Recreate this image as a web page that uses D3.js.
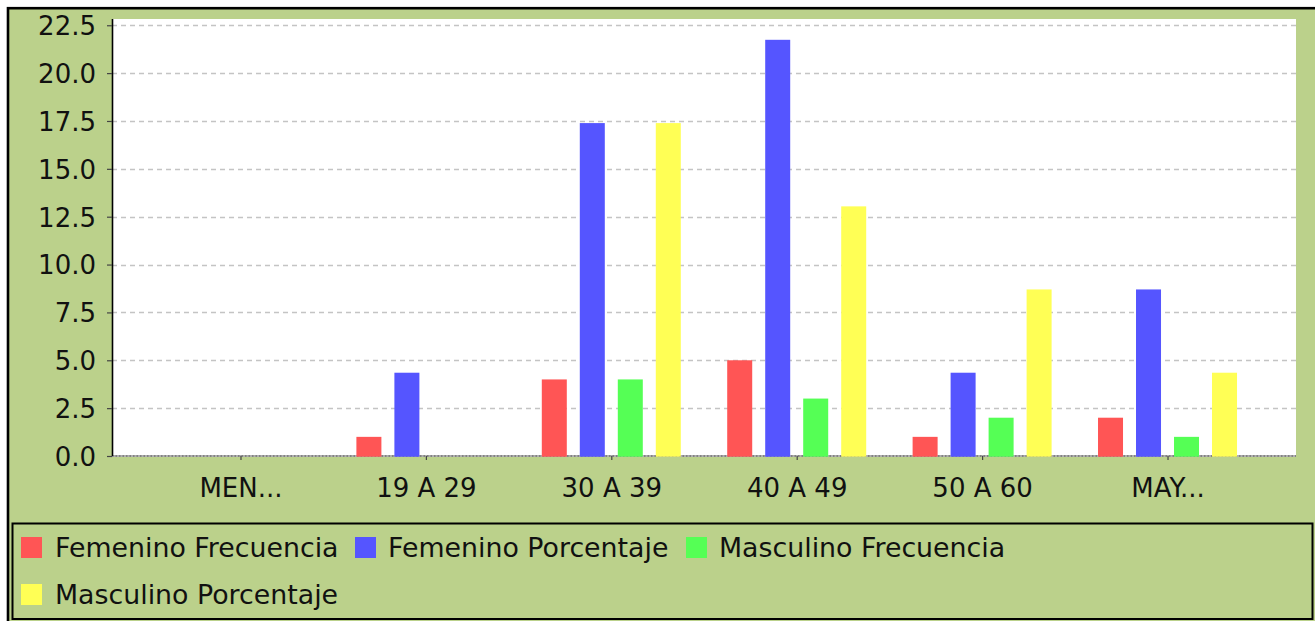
<!DOCTYPE html>
<html>
<head>
<meta charset="utf-8">
<script src="https://cdn.jsdelivr.net/npm/d3@7"></script>
<style>
  html, body { margin: 0; padding: 0; background: #ffffff; }
  svg { display: block; font-family: "DejaVu Sans", sans-serif; }
</style>
</head>
<body>
<svg id="chart" width="1315" height="621"></svg>
<script>
const categories = ["MEN...", "19 A 29", "30 A 39", "40 A 49", "50 A 60", "MAY..."];
const seriesNames = ["Femenino Frecuencia", "Femenino Porcentaje", "Masculino Frecuencia", "Masculino Porcentaje"];
const femeninoFrecuencia = [0, 1, 4, 5, 1, 2];
const femeninoPorcentaje = [0, 4.35, 17.39, 21.74, 4.35, 8.70];
const masculinoFrecuencia = [0, 0, 4, 3, 2, 1];
const masculinoPorcentaje = [0, 0, 17.39, 13.04, 8.70, 4.35];
const yTickValues = [0, 2.5, 5, 7.5, 10, 12.5, 15, 17.5, 20, 22.5];
const seriesColors = ["#ff5555", "#5555ff", "#55ff55", "#ffff55"];

const seriesValues = [femeninoFrecuencia, femeninoPorcentaje, masculinoFrecuencia, masculinoPorcentaje];
const rows = [];
categories.forEach((c, i) => {
  seriesNames.forEach((s, j) => rows.push({ cat: c, series: s, value: seriesValues[j][i], color: seriesColors[j] }));
});

const svg = d3.select("#chart");
const W = 1315, H = 621;
const bg = "#bbd18b";
const plot = { left: 112, top: 19, right: 1296, bottom: 456 };

// outer background + frame
svg.append("rect").attr("x", 0).attr("y", 0).attr("width", W).attr("height", H).attr("fill", "#ffffff");
svg.append("rect").attr("x", 8).attr("y", 8.2).attr("width", W + 10).attr("height", H + 10)
  .attr("fill", bg).attr("stroke", "#000").attr("stroke-width", 2.6);

// plot area
svg.append("rect").attr("x", plot.left).attr("y", plot.top)
  .attr("width", plot.right - plot.left).attr("height", plot.bottom - plot.top).attr("fill", "#ffffff");

const yMax = d3.max(rows, d => d.value) * 1.05;
const y = d3.scaleLinear().domain([0, yMax]).range([plot.bottom, plot.top]);
const x0 = d3.scalePoint().domain(categories).range([plot.left, plot.right]).padding(0.693);
const x1 = d3.scaleBand().domain(seriesNames).range([-69.5, 69.5]).paddingInner(0.342).paddingOuter(0);

// gridlines
svg.append("g").selectAll("line").data(yTickValues.filter(v => v > 0)).join("line")
  .attr("x1", plot.left).attr("x2", plot.right)
  .attr("y1", d => Math.round(y(d)) + 0.5).attr("y2", d => Math.round(y(d)) + 0.5)
  .attr("stroke", "#c4c4c4").attr("stroke-width", 1.3).attr("stroke-dasharray", "5,4");

// baseline (zero)
svg.append("line").attr("x1", plot.left).attr("x2", plot.right)
  .attr("y1", y(0)).attr("y2", y(0)).attr("stroke", "#b0b0b0").attr("stroke-width", 2);
svg.append("line").attr("x1", plot.left).attr("x2", plot.right)
  .attr("y1", y(0)).attr("y2", y(0)).attr("stroke", "#555").attr("stroke-width", 1.2).attr("stroke-dasharray", "1.5,2");

// bars
svg.append("g").selectAll("rect").data(rows.filter(d => d.value > 0)).join("rect")
  .attr("x", d => x0(d.cat) + x1(d.series))
  .attr("width", x1.bandwidth())
  .attr("y", d => y(d.value))
  .attr("height", d => y(0) - y(d.value) + 0.7)
  .attr("fill", d => d.color);

// y axis
const yAxis = svg.append("g").attr("transform", `translate(${plot.left},0)`)
  .call(d3.axisLeft(y).tickValues(yTickValues).tickFormat(d3.format(".1f")).tickSize(5).tickPadding(11));
yAxis.select(".domain").attr("stroke", "#000").attr("stroke-width", 1.6)
  .attr("d", `M0.5,${plot.top}V${plot.bottom}`);
yAxis.selectAll(".tick line").attr("stroke", "#444").attr("stroke-width", 1.2);
yAxis.selectAll(".tick text").attr("font-size", 26).attr("fill", "#111")
  .attr("font-family", "DejaVu Sans").attr("dy", "0.36em");

// x axis
const xAxis = svg.append("g").attr("transform", `translate(0,${plot.bottom})`)
  .call(d3.axisBottom(x0).tickSize(4).tickPadding(0));
xAxis.select(".domain").remove();
xAxis.selectAll(".tick line").attr("stroke", "#444").attr("stroke-width", 1.2);
xAxis.selectAll(".tick text").attr("font-size", 26).attr("fill", "#111")
  .attr("font-family", "DejaVu Sans").attr("dy", null).attr("y", 41);

// legend
svg.append("rect").attr("x", 12.5).attr("y", 523.5).attr("width", 1300).attr("height", 95.5)
  .attr("fill", bg).attr("stroke", "#000").attr("stroke-width", 2);
const legendPos = [
  { sx: 21, tx: 55, y: 537 },
  { sx: 355, tx: 388, y: 537 },
  { sx: 686, tx: 719, y: 537 },
  { sx: 21, tx: 55, y: 584 }
];
const lg = svg.append("g").selectAll("g").data(seriesNames).join("g");
lg.append("rect").attr("x", (d, i) => legendPos[i].sx).attr("y", (d, i) => legendPos[i].y)
  .attr("width", 21).attr("height", 21).attr("fill", (d, i) => seriesColors[i]);
lg.append("text").attr("x", (d, i) => legendPos[i].tx).attr("y", (d, i) => legendPos[i].y + 20)
  .attr("font-size", 26.8).attr("fill", "#111").text(d => d);
</script>
</body>
</html>
